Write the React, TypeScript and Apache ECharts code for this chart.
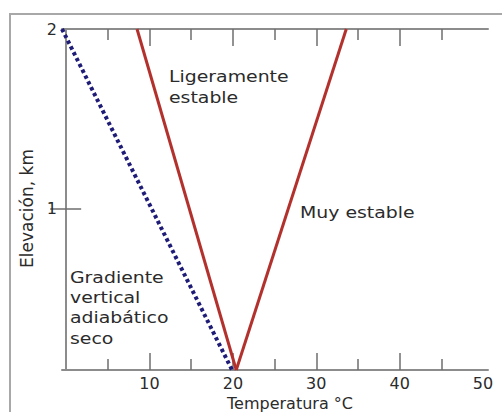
import React, { useEffect, useRef } from "react";
import * as echarts from "echarts";

// Temperature (°C) versus elevation (km) profiles
const dryAdiabatic: [number, number][] = [
  [-0.5, 2],
  [19.9, 0.1],
];
const slightlyStable: [number, number][] = [
  [8.5, 2],
  [20.4, 0.1],
];
const veryStable: [number, number][] = [
  [20.4, 0.1],
  [33.6, 2],
];

const majorTicks = [10, 20, 30, 40];
const minorTicks = [5, 15, 25, 35, 45];
const xLabels = [10, 20, 30, 40, 50];
const yLabels = [1, 2];
const yTicks = [1];

const X_MIN = -0.5;
const X_MAX = 50.6;
const Y_MIN = 0.1;
const Y_MAX = 2;

const FONT = "DejaVu Sans";
const AXIS_GRAY = "#8c8c8c";
const TICK_GRAY = "#6e6e6e";
const TEXT = "#2b2b2b";
const RED = "#b3312d";
const NAVY = "#1f1c78";

function xAxisDef(position: "top" | "bottom", ticks: number[], len: number, showLabels: boolean, showLine: boolean) {
  return {
    type: "value",
    position,
    min: X_MIN,
    max: X_MAX,
    splitLine: { show: false },
    axisLine: { show: showLine, lineStyle: { color: AXIS_GRAY, width: 2 } },
    axisTick: {
      show: true,
      inside: true,
      length: len,
      customValues: ticks,
      lineStyle: { color: TICK_GRAY, width: 1.5 },
    },
    axisLabel: showLabels
      ? { show: true, customValues: xLabels, color: TEXT, fontFamily: FONT, fontSize: 16, margin: 5, lineHeight: 17 }
      : { show: false },
  };
}

export default function App() {
  const ref = useRef<HTMLDivElement>(null);

  useEffect(() => {
    if (!ref.current) return;
    const chart = echarts.init(ref.current, null, { renderer: "svg" });

    const annotationFont = `16px ${FONT}`;

    chart.setOption({
      animation: false,
      backgroundColor: "#ffffff",
      grid: { left: 62, right: 14, top: 29, bottom: 42, containLabel: false, outerBoundsMode: "none" },
      xAxis: [
        {
          ...xAxisDef("bottom", majorTicks, 17, true, true),
          name: "Temperatura °C",
          nameLocation: "middle",
          nameGap: 25,
          nameMoveOverlap: false,
          nameTextStyle: { color: TEXT, fontFamily: FONT, fontSize: 16, lineHeight: 17, padding: [0, 0, 0, 30] },
        },
        xAxisDef("bottom", minorTicks, 11, false, false),
        xAxisDef("top", majorTicks, 17, false, true),
        xAxisDef("top", minorTicks, 11, false, false),
      ],
      yAxis: [
        {
          type: "value",
          position: "left",
          min: Y_MIN,
          max: Y_MAX,
          name: "Elevación, km",
          nameLocation: "middle",
          nameGap: 26,
          nameTextStyle: { color: TEXT, fontFamily: FONT, fontSize: 17, padding: [0, 18, 0, 0] },
          splitLine: { show: false },
          axisLine: { show: true, lineStyle: { color: AXIS_GRAY, width: 2 } },
          axisTick: { show: true, inside: true, length: 15, customValues: yTicks, lineStyle: { color: TICK_GRAY, width: 1.5 } },
          axisLabel: { show: true, customValues: yLabels, color: TEXT, fontFamily: FONT, fontSize: 16, margin: 5 },
        },
        {
          type: "value",
          position: "right",
          min: Y_MIN,
          max: Y_MAX,
          splitLine: { show: false },
          axisLine: { show: true, lineStyle: { color: AXIS_GRAY, width: 2 } },
          axisTick: { show: true, inside: true, length: 16, customValues: yTicks, lineStyle: { color: TICK_GRAY, width: 1.5 } },
          axisLabel: { show: false },
        },
      ],
      series: [
        {
          type: "line",
          name: "Gradiente vertical adiabático seco",
          data: dryAdiabatic,
          symbol: "none",
          lineStyle: { color: NAVY, width: 4, type: [3.5, 3] },
        },
        {
          type: "line",
          name: "Ligeramente estable",
          data: slightlyStable,
          symbol: "none",
          lineStyle: { color: RED, width: 3 },
        },
        {
          type: "line",
          name: "Muy estable",
          data: veryStable,
          symbol: "none",
          lineStyle: { color: RED, width: 3 },
        },
      ],
      graphic: [
        {
          type: "rect",
          silent: true,
          z: -1,
          shape: { x: 10, y: 14, width: 700, height: 600 },
          style: { fill: "none", stroke: "#a8a8a8", lineWidth: 2 },
        },
        {
          type: "text",
          x: 169,
          y: 66,
          scaleX: 1.18,
          style: {
            text: "Ligeramente\nestable",
            font: annotationFont,
            fill: TEXT,
            lineHeight: 21,
            textVerticalAlign: "top",
          },
        },
        {
          type: "text",
          x: 300,
          y: 202,
          scaleX: 1.18,
          style: {
            text: "Muy estable",
            font: annotationFont,
            fill: TEXT,
            lineHeight: 21,
            textVerticalAlign: "top",
          },
        },
        {
          type: "text",
          x: 70,
          y: 267,
          scaleX: 1.18,
          style: {
            text: "Gradiente\nvertical\nadiabático\nseco",
            font: annotationFont,
            fill: TEXT,
            lineHeight: 20.3,
            textVerticalAlign: "top",
          },
        },
      ],
    });

    return () => chart.dispose();
  }, []);

  return <div ref={ref} style={{ width: 502, height: 412, position: "absolute", left: 0, top: 0 }} />;
}
